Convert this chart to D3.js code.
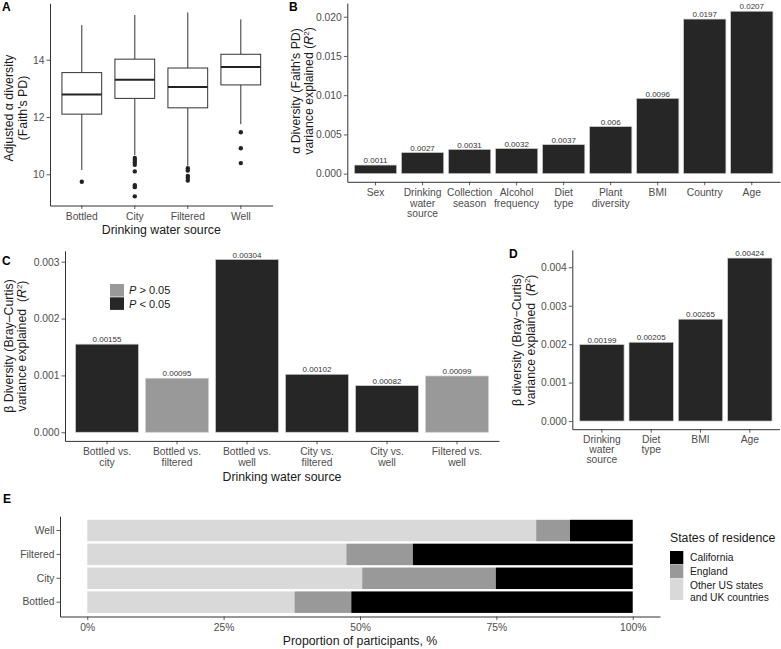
<!DOCTYPE html>
<html>
<head>
<meta charset="utf-8">
<script src="https://cdn.jsdelivr.net/npm/d3@7"></script>
<style>
  html, body { margin: 0; padding: 0; background: #fff; }
  svg { display: block; font-family: "Liberation Sans", Arial, Helvetica, sans-serif; }
</style>
</head>
<body>
<svg id="chart" width="781" height="649"></svg>
<script>
// ---------------- DATA ----------------
// Panel A: box plot of adjusted alpha diversity by drinking water source
const boxGroups = ["Bottled", "City", "Filtered", "Well"];
const boxLower = [10.15, 10.67, 10.30, 11.75];
const boxQ1 = [12.10, 12.65, 12.32, 13.12];
const boxMedian = [12.79, 13.30, 13.05, 13.75];
const boxQ3 = [13.55, 14.02, 13.71, 14.19];
const boxUpper = [15.21, 15.56, 15.65, 15.41];
const boxOutliers = [
  [9.74],
  [10.57, 10.50, 10.42, 10.33, 10.10, 9.62, 9.55, 9.23],
  [10.21, 10.13, 9.94, 9.87, 9.78],
  [11.47, 10.91, 10.39]
];
const aTicks = [10, 12, 14];

// Panel B: alpha diversity variance explained
const bCategories = ["Sex", "Drinking\nwater\nsource", "Collection\nseason", "Alcohol\nfrequency", "Diet\ntype", "Plant\ndiversity", "BMI", "Country", "Age"];
const bValues = [0.0011, 0.0027, 0.0031, 0.0032, 0.0037, 0.006, 0.0096, 0.0197, 0.0207];
const bTicks = [0, 0.005, 0.010, 0.015, 0.020];

// Panel C: beta diversity pairwise comparisons
const cCategories = ["Bottled vs.\ncity", "Bottled vs.\nfiltered", "Bottled vs.\nwell", "City vs.\nfiltered", "City vs.\nwell", "Filtered vs.\nwell"];
const cValues = [0.00155, 0.00095, 0.00304, 0.00102, 0.00082, 0.00099];
const cSignificant = [true, false, true, true, true, false];
const cTicks = [0, 0.001, 0.002, 0.003];
const cLegendLabels = ["> 0.05", "< 0.05"];

// Panel D: beta diversity variance explained
const dCategories = ["Drinking\nwater\nsource", "Diet\ntype", "BMI", "Age"];
const dValues = [0.00199, 0.00205, 0.00265, 0.00424];
const dTicks = [0, 0.001, 0.002, 0.003, 0.004];

// Panel E: states of residence by drinking water source (proportions)
const eGroups = ["Well", "Filtered", "City", "Bottled"];
const eStates = ["California", "England", "Other US states\nand UK countries"];
const eOther = [0.823, 0.475, 0.504, 0.380];
const eEngland = [0.062, 0.122, 0.245, 0.104];
const eCalifornia = [0.115, 0.403, 0.251, 0.516];
const eTicks = [0, 0.25, 0.5, 0.75, 1];

// ---------------- STYLE ----------------
const DARK = "#262626", MID = "#999999", LIGHT = "#d9d9d9";
const AXIS = "#333333", TICKTXT = "#4d4d4d", TITLE = "#1a1a1a";
const TICKFS = 10.3;
const svg = d3.select("#chart");

function styleAxis(g) {
  g.select(".domain").attr("stroke", AXIS).attr("stroke-width", 1);
  g.selectAll(".tick line").attr("stroke", AXIS).attr("stroke-width", 0.8);
  g.selectAll(".tick text").attr("fill", TICKTXT).attr("font-size", TICKFS);
}
function multiline(g, lineH, firstY) {
  g.selectAll(".tick text").each(function() {
    const t = d3.select(this);
    const lines = t.text().split("\n");
    t.text(null).attr("y", firstY).attr("dy", null);
    lines.forEach((l, i) => t.append("tspan").attr("x", 0).attr("dy", i === 0 ? 0 : lineH).text(l));
  });
}
function panelLabel(txt, x, y) {
  svg.append("text").attr("x", x).attr("y", y).attr("font-size", 12).attr("font-weight", "bold")
    .attr("fill", "#000").text(txt);
}
function yTitle(lines, x1, x2, cy, r2) {
  const g = svg.append("g").attr("fill", TITLE).attr("font-size", 12.3);
  [x1, x2].forEach((x, i) => {
    const t = g.append("text").attr("transform", `translate(${x},${cy}) rotate(-90)`).attr("text-anchor", "middle");
    if (i === 1 && r2) {
      t.append("tspan").text(lines[1]);
      t.append("tspan").attr("font-style", "italic").text("R");
      t.append("tspan").attr("font-size", 8).attr("dy", -4.5).text("2");
      t.append("tspan").attr("dy", 4.5).text(")");
    } else {
      t.text(lines[i]);
    }
  });
}
function xTitle(txt, cx, y) {
  svg.append("text").attr("x", cx).attr("y", y).attr("text-anchor", "middle")
    .attr("font-size", 12.3).attr("fill", TITLE).text(txt);
}

// ---------------- PANEL A ----------------
(function() {
  const x0 = 50, x1 = 272.6, yTop = 3.3, yBot = 205.5;
  const x = d3.scaleBand().domain(boxGroups).range([x0, x1]).paddingInner(0).paddingOuter(0.1);
  const y = d3.scaleLinear().domain([8.91, 15.97]).range([yBot, yTop]);
  const bw = x.step() * 0.75;
  const g = svg.append("g");
  boxGroups.forEach((grp, i) => {
    const cx = x(grp) + x.bandwidth() / 2;
    g.append("line").attr("x1", cx).attr("x2", cx).attr("y1", y(boxUpper[i])).attr("y2", y(boxQ3[i]))
      .attr("stroke", AXIS).attr("stroke-width", 1);
    g.append("line").attr("x1", cx).attr("x2", cx).attr("y1", y(boxQ1[i])).attr("y2", y(boxLower[i]))
      .attr("stroke", AXIS).attr("stroke-width", 1);
    g.append("rect").attr("x", cx - bw / 2).attr("width", bw).attr("y", y(boxQ3[i]))
      .attr("height", y(boxQ1[i]) - y(boxQ3[i])).attr("fill", "#fff").attr("stroke", AXIS).attr("stroke-width", 1);
    g.append("line").attr("x1", cx - bw / 2).attr("x2", cx + bw / 2).attr("y1", y(boxMedian[i])).attr("y2", y(boxMedian[i]))
      .attr("stroke", "#222").attr("stroke-width", 2);
    g.selectAll(null).data(boxOutliers[i]).enter().append("circle")
      .attr("cx", cx).attr("cy", d => y(d)).attr("r", 2.2).attr("fill", "#222");
  });
  svg.append("g").attr("transform", `translate(${x0},0)`)
    .call(d3.axisLeft(y).tickValues(aTicks).tickFormat(d3.format("d")).tickSize(3.5).tickSizeOuter(0).tickPadding(2))
    .call(styleAxis);
  svg.append("g").attr("transform", `translate(0,${yBot})`)
    .call(d3.axisBottom(x).tickSize(3.5).tickSizeOuter(0).tickPadding(2)).call(styleAxis)
    .call(g => multiline(g, 10.7, 14.5));
  xTitle("Drinking water source", (x0 + x1) / 2, 234);
  yTitle(["Adjusted \u03b1 diversity", "(Faith's PD)"], 12.5, 26.5, 108, false);
  panelLabel("A", 2, 11);
})();

// generic bar panel
function barPanel(cats, vals, fills, ticks, fmt, x0, x1, yTop, yBot, dom, lineH, firstY) {
  const x = d3.scaleBand().domain(cats).range([x0, x1]).paddingInner(0.1).paddingOuter(0.15);
  const y = d3.scaleLinear().domain(dom).range([yBot, yTop]);
  const g = svg.append("g");
  g.selectAll("rect").data(vals).enter().append("rect")
    .attr("x", (d, i) => x(cats[i])).attr("width", x.bandwidth())
    .attr("y", d => y(d)).attr("height", d => y(0) - y(d))
    .attr("fill", (d, i) => fills[i]).attr("stroke", "#d0d0d0").attr("stroke-width", 0.7);
  g.selectAll("text").data(vals).enter().append("text")
    .attr("x", (d, i) => x(cats[i]) + x.bandwidth() / 2).attr("y", d => y(d) - 1.8)
    .attr("text-anchor", "middle").attr("font-size", 8).attr("fill", "#333").text(d => String(d));
  svg.append("g").attr("transform", `translate(${x0},0)`)
    .call(d3.axisLeft(y).tickValues(ticks).tickFormat(d3.format(fmt)).tickSize(3.5).tickSizeOuter(0).tickPadding(2))
    .call(styleAxis);
  svg.append("g").attr("transform", `translate(0,${yBot})`)
    .call(d3.axisBottom(x).tickSize(3.5).tickSizeOuter(0).tickPadding(2)).call(styleAxis)
    .call(gg => multiline(gg, lineH, firstY));
  return { x, y };
}

// ---------------- PANEL B ----------------
barPanel(bCategories, bValues, bValues.map(() => DARK), bTicks, ".3f",
  347.3, 780, 3.1, 181.8, [-0.001035, 0.021735], 10.7, 14.3);
yTitle(["\u03b1 Diversity (Faith's PD)", "variance explained ("], 299.5, 313, 91, true);
panelLabel("B", 289, 11);

// ---------------- PANEL C ----------------
barPanel(cCategories, cValues, cSignificant.map(s => s ? DARK : MID), cTicks, ".3f",
  65, 499, 250.8, 440.9, [-0.000152, 0.003192], 10.7, 14.2);
xTitle("Drinking water source", (65 + 499) / 2, 481);
yTitle(["\u03b2 Diversity (Bray\u2013Curtis)", "variance explained\u00a0\u00a0("], 12.5, 26, 346, true);
panelLabel("C", 2, 265);
(function() {
  const lg = svg.append("g");
  const cols = [MID, DARK];
  cLegendLabels.forEach((lab, i) => {
    lg.append("rect").attr("x", 110).attr("y", 284 + i * 13.3).attr("width", 14).attr("height", 12.6).attr("fill", cols[i]);
    const t = lg.append("text").attr("x", 129).attr("y", 294.3 + i * 13.3).attr("font-size", 11).attr("fill", TITLE);
    t.append("tspan").attr("font-style", "italic").text("P");
    t.append("tspan").text(" " + lab);
  });
})();

// ---------------- PANEL D ----------------
barPanel(dCategories, dValues, dValues.map(() => DARK), dTicks, ".3f",
  572.3, 779.4, 249.9, 429.2, [-0.000212, 0.004452], 10.3, 13.6);
yTitle(["\u03b2 diversity (Bray\u2212Curtis)", "variance explained\u00a0\u00a0("], 521, 534.5, 340, true);
panelLabel("D", 509, 258);

// ---------------- PANEL E ----------------
(function() {
  const x0 = 60, x1 = 660, yTop = 516.2, yBot = 616.5;
  const x = d3.scaleLinear().domain([-0.05, 1.05]).range([x0, x1]);
  const y = d3.scaleBand().domain(eGroups).range([yTop, yBot]).paddingInner(0.1).paddingOuter(0.15);
  const rows = eGroups.map((gname, i) => ({ group: gname, other: eOther[i], england: eEngland[i], california: eCalifornia[i] }));
  const stack = d3.stack().keys(["other", "england", "california"])(rows);
  const colors = { other: LIGHT, england: MID, california: "#000" };
  const g = svg.append("g");
  stack.forEach(layer => {
    g.selectAll(null).data(layer).enter().append("rect")
      .attr("x", d => x(d[0])).attr("width", d => x(d[1]) - x(d[0]))
      .attr("y", d => y(d.data.group)).attr("height", y.bandwidth())
      .attr("fill", colors[layer.key]);
  });
  svg.append("g").attr("transform", `translate(${x0},0)`)
    .call(d3.axisLeft(y).tickSize(3.5).tickSizeOuter(0).tickPadding(2)).call(styleAxis);
  svg.append("g").attr("transform", `translate(0,${yBot})`)
    .call(d3.axisBottom(x).tickValues(eTicks).tickFormat(d3.format(".0%")).tickSize(3.5).tickSizeOuter(0).tickPadding(2))
    .call(styleAxis).call(gg => gg.selectAll(".tick text").attr("y", 14).attr("dy", null));
  xTitle("Proportion of participants, %", (x0 + x1) / 2, 644.5);
  panelLabel("E", 3, 503);

  // legend
  const lg = svg.append("g");
  lg.append("text").attr("x", 670).attr("y", 542).attr("font-size", 12.3).attr("fill", TITLE).text("States of residence");
  const keyCols = ["#000", MID, LIGHT];
  const keyY = [551, 565, 579];
  const keyH = [13.3, 13.3, 21];
  eStates.forEach((s, i) => {
    lg.append("rect").attr("x", 670).attr("y", keyY[i]).attr("width", 13.3).attr("height", keyH[i]).attr("fill", keyCols[i]);
    const t = lg.append("text").attr("x", 690).attr("y", keyY[i] + 10.3).attr("font-size", 10.3).attr("fill", TITLE);
    s.split("\n").forEach((l, j) => t.append("tspan").attr("x", 690).attr("dy", j === 0 ? 0 : 12).text(l));
  });
})();
</script>
</body>
</html>
